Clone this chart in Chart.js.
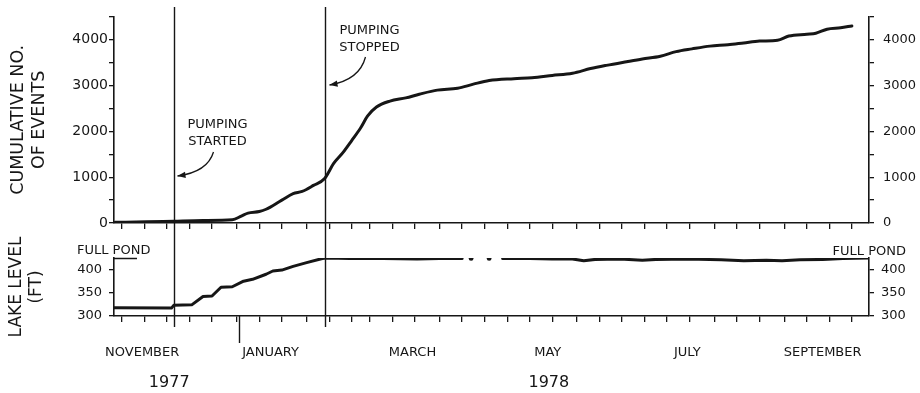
<!DOCTYPE html>
<html>
<head>
<meta charset="utf-8">
<script src="https://cdn.jsdelivr.net/npm/chart.js@4.4.1/dist/chart.umd.min.js"></script>
<style>
  html, body { margin: 0; padding: 0; background: #fff; }
  #wrap { position: relative; width: 920px; height: 393px; }
  #wrap canvas { position: absolute; left: 0; top: 0; }
</style>
</head>
<body>
<div id="wrap">
  <canvas id="events" width="920" height="393"></canvas>
  <canvas id="lake" width="920" height="393"></canvas>
</div>
<script>
// Time axis: days counted from 1 November 1977 (day 0).
const axisStartDay = 5.5;
const axisEndDay = 340.6;

// Nov 1977 .. Sep 1978, used for the 10th / 20th / month-end tick marks
const monthLengths = [30, 31, 31, 28, 31, 30, 31, 30, 31, 31, 30];
const monthLabels = ['NOVEMBER', 'JANUARY', 'MARCH', 'MAY', 'JULY', 'SEPTEMBER'];
const monthLabelDays = [18, 75, 138, 198, 260, 320];
const yearLabels = ['1977', '1978'];
const yearLabelDays = [30, 198.5];
const yearBoundaryDay = 61;          // 1 January 1978

const pumpingStartDay = 32;          // 3 December 1977
const pumpingStopDay = 99;           // 8 February 1978
const fullPondFeet = 425;

// Cumulative number of events
const eventDays = [6, 20, 32, 45, 58, 62, 65, 70, 73, 80, 85, 89, 94, 99, 103, 107, 111, 115, 118, 122,
  128, 135, 141, 149, 158, 165, 172, 183, 191, 200, 209, 217, 224, 233, 240, 248, 255, 262, 270, 278,
  285, 292, 300, 305, 313, 317, 322, 328, 333];
const eventCounts = [15, 25, 40, 55, 70, 150, 215, 250, 300, 500, 640, 690, 820, 970, 1300, 1530, 1800, 2080, 2330, 2530,
  2660, 2730, 2810, 2900, 2940, 3030, 3110, 3150, 3170, 3220, 3270, 3370, 3440, 3520, 3580, 3640, 3740, 3800, 3860, 3890,
  3930, 3970, 3990, 4080, 4120, 4140, 4230, 4260, 4300];

// Lake level (ft); null marks breaks in the record
const lakeDays = [5.5, 31, 32, 40, 45, 49, 53, 58, 63, 67, 73, 76, 80, 85, 91, 98, 100, 110, 125, 140, 150, 160,
  162, 164, 168, 172, 175, 178, 190, 200, 209, 214, 219, 230, 240, 246, 260, 275, 285, 295, 302, 310, 320, 329, 340.6];
const lakeFeet = [318, 317, 323, 324, 342, 343, 362, 363, 375, 379, 390, 397, 399, 407, 415, 424, 425, 424, 424, 423, 424, 424,
  null, 424, null, 424, null, 424, 424, 423, 423, 419, 422, 423, 420, 422, 423, 421, 419, 420, 419, 421, 422, 424, 425];

const tickDays = [];
monthLengths.reduce((start, len) => {
  tickDays.push(start + 9, start + 19, start + len - 1);
  return start + len;
}, 0);

const INK = '#161616';
Chart.defaults.font.family = "'DejaVu Sans', sans-serif";
Chart.defaults.color = INK;
Chart.defaults.animation = false;

const eventPoints = eventDays.map((d, i) => ({ x: d, y: eventCounts[i] }));
const lakePoints = lakeDays.map((d, i) => ({ x: d, y: lakeFeet[i] }));

function fixWidth(w) { return s => { s.width = w; }; }
function fixHeight(h) { return s => { s.height = h; }; }

function tickAxis(extra) {
  return Object.assign({
    type: 'linear', position: 'bottom', min: axisStartDay, max: axisEndDay,
    afterBuildTicks: s => { s.ticks = tickDays.map(v => ({ value: v })); },
    ticks: { display: false, autoSkip: false },
    grid: { drawOnChartArea: false, drawTicks: true, tickLength: 6, color: INK, lineWidth: 1.3 },
    border: { display: true, color: INK, width: 1.6 },
    afterFit: fixHeight(6)
  }, extra);
}

function valueAxis(position, opts) {
  return {
    position, min: opts.min, max: opts.max,
    afterBuildTicks: s => {
      const t = [];
      for (let v = opts.min; v <= opts.max; v += opts.step) t.push({ value: v });
      s.ticks = t;
    },
    ticks: {
      autoSkip: false, padding: opts.pad, font: { size: opts.size },
      callback: v => (v % opts.labelStep === 0 ? String(v) : '')
    },
    grid: { drawOnChartArea: false, tickLength: 5, color: INK, lineWidth: 1.3 },
    border: { display: true, color: INK, width: 1.6 },
    title: opts.title ? {
      display: true, text: opts.title, font: { size: opts.titleSize }, padding: { top: opts.titlePad, bottom: 0 }
    } : { display: false },
    afterFit: fixWidth(position === 'left' ? 114 : 51)
  };
}

function arrow(ctx, x0, y0, cx, cy, x1, y1) {
  ctx.beginPath();
  ctx.moveTo(x0, y0);
  ctx.quadraticCurveTo(cx, cy, x1, y1);
  ctx.stroke();
  const a = Math.atan2(y1 - cy, x1 - cx);
  const len = 8, half = 3.2;
  ctx.beginPath();
  ctx.moveTo(x1, y1);
  ctx.lineTo(x1 - len * Math.cos(a) + half * Math.sin(a), y1 - len * Math.sin(a) - half * Math.cos(a));
  ctx.lineTo(x1 - len * Math.cos(a) - half * Math.sin(a), y1 - len * Math.sin(a) + half * Math.cos(a));
  ctx.closePath();
  ctx.fill();
}

const pumpingMarkers = {
  id: 'pumpingMarkers',
  afterDraw(chart) {
    const { ctx, scales: { x } } = chart;
    const xs = Math.round(x.getPixelForValue(pumpingStartDay)) + 0.5;
    const xe = Math.round(x.getPixelForValue(pumpingStopDay)) + 0.5;
    ctx.save();
    ctx.strokeStyle = INK;
    ctx.fillStyle = INK;
    ctx.lineWidth = 1.4;
    [xs, xe].forEach(px => {
      ctx.beginPath();
      ctx.moveTo(px, 7);
      ctx.lineTo(px, 327);
      ctx.stroke();
    });
    ctx.font = "13px 'DejaVu Sans'";
    ctx.textAlign = 'center';
    ctx.textBaseline = 'middle';
    ctx.fillText('PUMPING', xs + 43, 125);
    ctx.fillText('STARTED', xs + 43, 142);
    ctx.fillText('PUMPING', xe + 44, 31);
    ctx.fillText('STOPPED', xe + 44, 48);
    ctx.lineWidth = 1.3;
    arrow(ctx, xs + 39, 152, xs + 33, 172, xs + 3, 176);
    arrow(ctx, xe + 40, 57, xe + 34, 80, xe + 4, 85);
    ctx.restore();
  }
};

const lakeMarkers = {
  id: 'lakeMarkers',
  afterDraw(chart) {
    const { ctx, chartArea, scales: { x, y } } = chart;
    const yp = Math.round(y.getPixelForValue(fullPondFeet)) + 0.5;
    ctx.save();
    ctx.strokeStyle = INK;
    ctx.fillStyle = INK;
    ctx.lineWidth = 1.5;
    ctx.beginPath();
    ctx.moveTo(chartArea.left, yp);
    ctx.lineTo(chartArea.left + 23, yp);
    ctx.stroke();
    const xb = Math.round(x.getPixelForValue(yearBoundaryDay)) + 0.5;
    ctx.lineWidth = 1.4;
    ctx.beginPath();
    ctx.moveTo(xb, chartArea.bottom);
    ctx.lineTo(xb, chartArea.bottom + 27);
    ctx.stroke();
    ctx.font = "13px 'DejaVu Sans'";
    ctx.textBaseline = 'middle';
    ctx.textAlign = 'left';
    ctx.fillText('FULL POND', chartArea.left - 37, yp - 8);
    ctx.textAlign = 'right';
    ctx.fillText('FULL POND', chartArea.right + 37, yp - 7);
    ctx.restore();
  }
};

new Chart(document.getElementById('events'), {
  type: 'line',
  data: {
    datasets: [{
      data: eventPoints,
      borderColor: INK, borderWidth: 3, pointRadius: 0,
      cubicInterpolationMode: 'monotone', borderCapStyle: 'round', borderJoinStyle: 'round'
    }]
  },
  options: {
    responsive: false,
    animation: false,
    layout: { padding: { top: 15, bottom: 164, left: 0, right: 0 } },
    plugins: { legend: { display: false }, tooltip: { enabled: false } },
    scales: {
      x: tickAxis({}),
      y: valueAxis('left', { min: 0, max: 4500, step: 500, labelStep: 1000, pad: 1, size: 14,
        title: ['CUMULATIVE NO.', 'OF EVENTS'], titleSize: 17.5, titlePad: 8 }),
      yR: valueAxis('right', { min: 0, max: 4500, step: 500, labelStep: 1000, pad: 9, size: 13 })
    }
  },
  plugins: [pumpingMarkers]
});

new Chart(document.getElementById('lake'), {
  type: 'line',
  data: {
    datasets: [{
      data: lakePoints,
      borderColor: INK, backgroundColor: INK, borderWidth: 3,
      spanGaps: false, tension: 0, borderCapStyle: 'round', borderJoinStyle: 'round',
      pointRadius: c => {
        const d = c.dataset.data, i = c.dataIndex;
        const prev = d[i - 1], next = d[i + 1];
        return d[i].y !== null && (!prev || prev.y === null) && (!next || next.y === null) ? 2.4 : 0;
      },
      pointBorderWidth: 0
    }]
  },
  options: {
    responsive: false,
    animation: false,
    layout: { padding: { top: 258, bottom: 0, left: 0, right: 0 } },
    plugins: { legend: { display: false }, tooltip: { enabled: false } },
    scales: {
      x: tickAxis({ weight: 0 }),
      xm: {
        type: 'linear', position: 'bottom', weight: 1, min: axisStartDay, max: axisEndDay,
        afterBuildTicks: s => { s.ticks = monthLabelDays.map(v => ({ value: v })); },
        ticks: { autoSkip: false, maxRotation: 0, padding: 23, font: { size: 13 },
          callback: (v, i) => monthLabels[i] },
        grid: { display: false, drawTicks: false },
        border: { display: false },
        afterFit: fixHeight(45)
      },
      xy: {
        type: 'linear', position: 'bottom', weight: 2, min: axisStartDay, max: axisEndDay,
        afterBuildTicks: s => { s.ticks = yearLabelDays.map(v => ({ value: v })); },
        ticks: { autoSkip: false, maxRotation: 0, padding: 6, font: { size: 16 },
          callback: (v, i) => yearLabels[i] },
        grid: { display: false, drawTicks: false },
        border: { display: false },
        afterFit: fixHeight(26)
      },
      y: valueAxis('left', { min: 300, max: 425, step: 50, labelStep: 50, pad: 7, size: 13,
        title: ['LAKE LEVEL', '(FT)'], titleSize: 17, titlePad: 6 }),
      yR: valueAxis('right', { min: 300, max: 425, step: 50, labelStep: 50, pad: 7, size: 13 })
    }
  },
  plugins: [lakeMarkers]
});
</script>
</body>
</html>
